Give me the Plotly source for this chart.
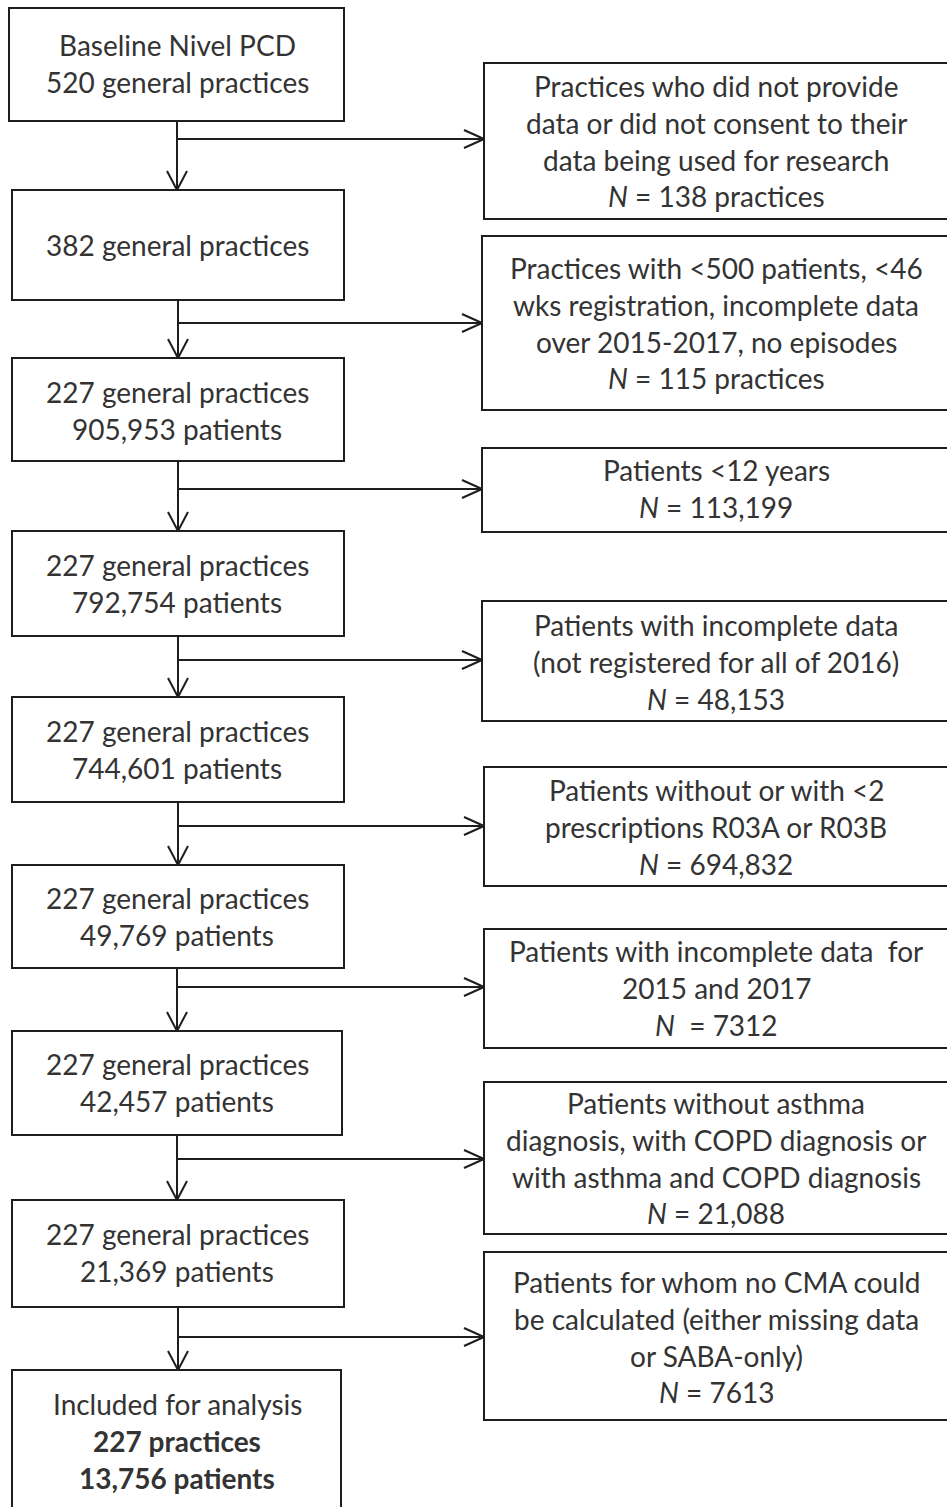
import plotly.graph_objects as go

# ---------------- data (texts) ----------------
main_texts = [
    ["Baseline Nivel PCD", "520 general practices"],
    ["382 general practices"],
    ["227 general practices", "905,953 patients"],
    ["227 general practices", "792,754 patients"],
    ["227 general practices", "744,601 patients"],
    ["227 general practices", "49,769 patients"],
    ["227 general practices", "42,457 patients"],
    ["227 general practices", "21,369 patients"],
    ["Included for analysis", "<b>227 practices</b>", "<b>13,756 patients</b>"],
]
excl_texts = [
    ["Practices who did not provide", "data or did not consent to their",
     "data being used for research", "<i>N</i> = 138 practices"],
    ["Practices with <500 patients, <46", "wks registration, incomplete data",
     "over 2015-2017, no episodes", "<i>N</i> = 115 practices"],
    ["Patients <12 years", "<i>N</i> = 113,199"],
    ["Patients with incomplete data", "(not registered for all of 2016)", "<i>N</i> = 48,153"],
    ["Patients without or with <2", "prescriptions R03A or R03B", "<i>N</i> = 694,832"],
    ["Patients with incomplete data  for", "2015 and 2017", "<i>N</i>  = 7312"],
    ["Patients without asthma", "diagnosis, with COPD diagnosis or",
     "with asthma and COPD diagnosis", "<i>N</i> = 21,088"],
    ["Patients for whom no CMA could", "be calculated (either missing data",
     "or SABA-only)", "<i>N</i> = 7613"],
]

# ---------------- layout geometry (pixels) ----------------
main_boxes = [  # x0, x1, y0, y1
    (9, 344, 8, 121), (12, 344, 190, 300), (12, 344, 358, 461),
    (12, 344, 531, 636), (12, 344, 697, 802), (12, 344, 865, 968),
    (12, 342, 1031, 1135), (12, 344, 1200, 1307), (12, 341, 1370, 1520),
]
excl_boxes = [
    (484, 960, 63, 219), (482, 960, 236, 410), (482, 960, 448, 532),
    (482, 960, 601, 721), (484, 960, 767, 886), (484, 960, 929, 1048),
    (484, 960, 1082, 1234), (484, 960, 1252, 1420),
]
branch_y = [139, 323, 489, 660, 826, 987, 1159, 1337]
stem_x = [177, 178, 178, 178, 178, 177, 177, 178]
main_first = [45, 245, 392, 565, 731, 898, 1064, 1234, 1404]
excl_first = [86, 268, 470, 625, 790, 951, 1103, 1282]
line_step = 36.8
FONT = "Lato, Carlito, Calibri, sans-serif"
FSIZE = 28
TXT = "#333333"
LINE = "#1e1e1e"

fig = go.Figure()
shapes = []
annos = []

def rect(x0, x1, y0, y1):
    shapes.append(dict(type="rect", x0=x0, x1=x1, y0=y0, y1=y1,
                       line=dict(color=LINE, width=2), fillcolor="rgba(0,0,0,0)",
                       layer="above"))

def seg(x0, y0, x1, y1):
    shapes.append(dict(type="line", x0=x0, y0=y0, x1=x1, y1=y1,
                       line=dict(color=LINE, width=2)))

def text_block(lines, xc, y_first):
    for i, t in enumerate(lines):
        annos.append(dict(x=xc, y=y_first + i * line_step, text=t, showarrow=False,
                          xanchor="center", yanchor="middle",
                          font=dict(family=FONT, size=FSIZE, color=TXT)))

for b, lines, yf in zip(main_boxes, main_texts, main_first):
    rect(*b)
    text_block(lines, 177, yf)

for b, lines, yf in zip(excl_boxes, excl_texts, excl_first):
    rect(*b)
    text_block(lines, 716, yf)

# connectors
for i in range(8):
    sx = stem_x[i]
    y_top = main_boxes[i][3]
    y_bot = main_boxes[i + 1][2]
    by = branch_y[i]
    ex = excl_boxes[i][0]
    seg(sx, y_top, sx, y_bot)
    seg(sx - 10, y_bot - 19, sx, y_bot)
    seg(sx + 10, y_bot - 19, sx, y_bot)
    seg(sx, by, ex, by)
    seg(ex - 20, by - 9, ex, by)
    seg(ex - 20, by + 9, ex, by)

fig.update_layout(
    width=947, height=1507,
    margin=dict(l=0, r=0, t=0, b=0),
    paper_bgcolor="white", plot_bgcolor="white",
    xaxis=dict(range=[0, 947], visible=False, fixedrange=True),
    yaxis=dict(range=[1507, 0], visible=False, fixedrange=True),
    shapes=shapes, annotations=annos, showlegend=False,
)
fig.write_html(
    "out.html",
    config={"displayModeBar": False},
    post_script="document.body.style.margin='0';document.body.style.overflow='hidden';",
)
